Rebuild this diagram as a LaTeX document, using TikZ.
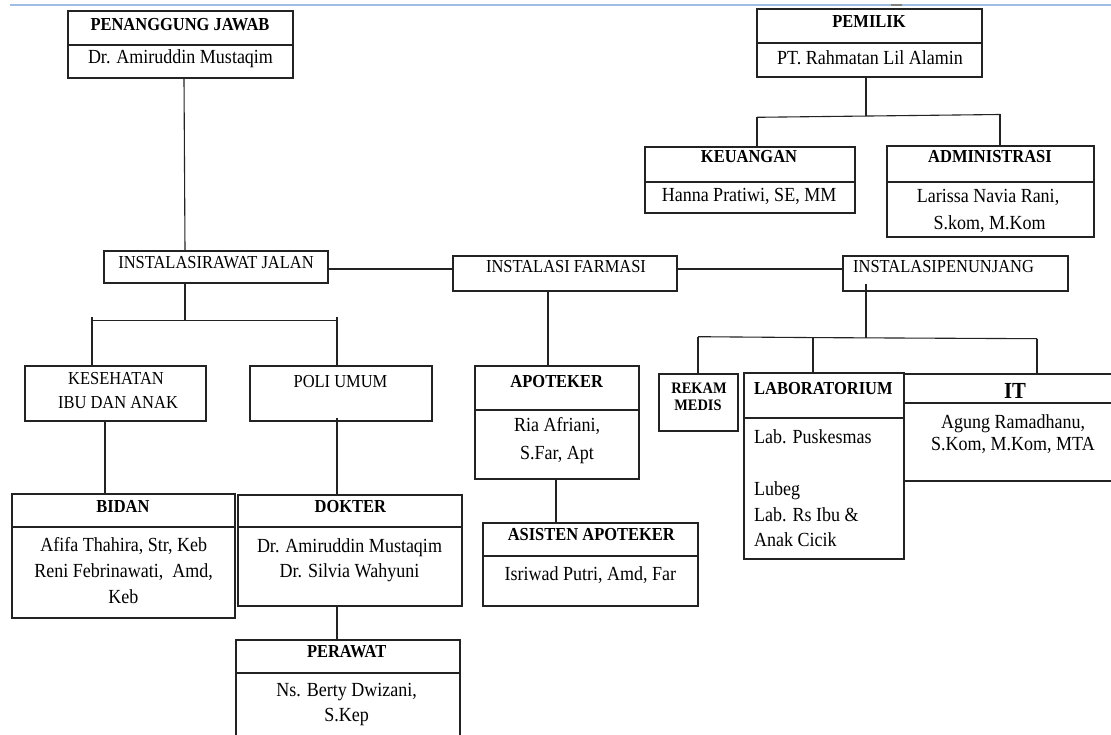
\documentclass[tikz,border=0pt]{standalone}
\usepackage{fontspec}
\setmainfont{Liberation Serif}[FakeStretch=0.9]
\usetikzlibrary{fit}
\definecolor{topblue}{RGB}{160,190,228}
\definecolor{ln}{RGB}{35,35,35}
\tikzset{
  box/.style={draw=ln, line width=1.1pt, inner sep=0pt, fill=white},
  con/.style={draw=ln, line width=1.1pt},
  hd/.style={inner sep=0pt, anchor=base, font=\fontsize{18.3}{21}\selectfont\bfseries},
  bd/.style={inner sep=0pt, anchor=base, font=\fontsize{20}{24}\selectfont},
  cp/.style={inner sep=0pt, anchor=base, font=\fontsize{18.3}{21}\selectfont},
  sm/.style={inner sep=0pt, anchor=base, font=\fontsize{16}{19}\selectfont\bfseries},
  big/.style={inner sep=0pt, anchor=base, font=\fontsize{23}{26}\selectfont\bfseries},
}
\newcommand\bx[5]{\node[box, fit={(#2,#3) (#4,#5)}] (#1) {};}
\newcommand\tx[5]{\node[#4] (#1) at (#2,#3) {#5};}
\begin{document}
\begin{tikzpicture}[x=1pt,y=-1pt]
\clip (0,0) rectangle (1111,735);
\fill[white] (0,0) rectangle (1111,735);
% top page line
\coordinate (tl0) at (10,5);
\coordinate (tl1) at (1111,5);
\draw[topblue, line width=1.6pt] (tl0) -- (tl1);
\coordinate (td0) at (891,5);
\coordinate (td1) at (902,5);
\draw[gray, line width=1.6pt] (td0) -- (td1);

% ---------- connectors (coordinates) ----------
\coordinate (xpj) at (184,0);
\coordinate (xrj) at (185,0);
\coordinate (xke) at (92,0);
\coordinate (xpu) at (337,0);
\coordinate (xkb) at (105,0);
\coordinate (xfa) at (548,0);
\coordinate (xap) at (556,0);
\coordinate (xpn) at (866,0);
\coordinate (xrm) at (698,0);
\coordinate (xla) at (813,0);
\coordinate (xit) at (1037,0);
\coordinate (xku) at (757,0);
\coordinate (xad) at (1000,0);
\coordinate (yh) at (0,269);

% ---------- boxes ----------
\bx{pjh}{68}{11}{293}{45}
\bx{pjb}{68}{45}{293}{78}
\bx{pmh}{757}{9}{982}{43}
\bx{pmb}{757}{43}{982}{77}
\bx{kuh}{645}{147}{855}{182}
\bx{kub}{645}{182}{855}{213}
\bx{adh}{887}{146}{1094}{182}
\bx{adb}{887}{182}{1094}{237}
\bx{rj}{104}{251}{328}{283}
\bx{fa}{453}{256}{677}{291}
\bx{pn}{843}{256}{1068}{291}
\bx{ke}{25}{366}{206}{421}
\bx{pu}{250}{366}{432}{421}
\bx{bih}{12}{494}{235}{527}
\bx{bib}{12}{527}{235}{618}
\bx{doh}{238}{495}{462}{527}
\bx{dob}{238}{527}{462}{606}
\bx{peh}{236}{640}{460}{673}
\bx{peb}{236}{673}{460}{760}
\bx{aph}{475}{366}{639}{410}
\bx{apb}{475}{410}{639}{479}
\bx{ash}{483}{523}{698}{556}
\bx{asb}{483}{556}{698}{606}
\bx{rm}{659}{374}{738}{431}
\bx{lah}{744}{373}{904}{418}
\bx{lab}{744}{418}{904}{559}
\bx{ith}{904}{374}{1130}{403}
\bx{itb}{904}{403}{1130}{481}

% junction coordinates
\coordinate (jrj) at (185,320.7);
\coordinate (bl) at (92,317);
\coordinate (br) at (337,317);
\coordinate (bl2) at (92,320.7);
\coordinate (br2) at (337,320.7);
\coordinate (jpn) at (866,337.5);
\coordinate (pnin) at (866,284);
\coordinate (pbl) at (698,336.7);
\coordinate (pbm) at (813,337.6);
\coordinate (pbr) at (1037,338.7);
\coordinate (jpm) at (866,116);
\coordinate (mbl) at (757,117.3);
\coordinate (mbr) at (1000,114.5);
\coordinate (puin) at (337,418);

% ---------- connectors ----------
\draw[con] (pjb.south -| xpj) -- (rj.north -| xrj);
\draw[con] (rj.south -| xrj) -- (jrj);
\draw[con] (bl2) -- (br2);
\draw[con] (bl) -- (ke.north -| xke);
\draw[con] (br) -- (pu.north -| xpu);
\draw[con] (ke.south -| xkb) -- (bih.north -| xkb);
\draw[con] (puin) -- (doh.north -| xpu);
\draw[con] (dob.south -| xpu) -- (peh.north -| xpu);
\draw[con] (rj.east |- yh) -- (fa.west |- yh);
\draw[con] (fa.east |- yh) -- (pn.west |- yh);
\draw[con] (fa.south -| xfa) -- (aph.north -| xfa);
\draw[con] (apb.south -| xap) -- (ash.north -| xap);
\draw[con] (pnin) -- (jpn);
\draw[con] (pbl) -- (pbm) -- (pbr);
\draw[con] (pbl) -- (rm.north -| xrm);
\draw[con] (pbm) -- (lah.north -| xla);
\draw[con] (pbr) -- (ith.north -| xit);
\draw[con] (pmb.south -| xpn) -- (jpm);
\draw[con] (mbl) -- (mbr);
\draw[con] (mbl) -- (kuh.north -| xku);
\draw[con] (mbr) -- (adh.north -| xad);

% ---------- texts ----------
\tx{tpjh}{180}{30.7}{hd}{PENANGGUNG JAWAB}
\tx{tpjb}{180.5}{63.3}{bd}{Dr. Amiruddin Mustaqim}
\tx{tpmh}{869}{27.3}{hd}{PEMILIK}
\tx{tpmb}{870}{65}{bd}{PT. Rahmatan Lil Alamin}
\tx{tkuh}{749}{163}{hd}{KEUANGAN}
\tx{tkub}{749}{202}{bd}{Hanna Pratiwi, SE, MM}
\tx{tadh}{990}{163}{hd}{ADMINISTRASI}
\tx{tadb1}{988}{202.7}{bd}{Larissa Navia Rani,}
\tx{tadb2}{989.5}{230}{bd}{S.kom, M.Kom}
\tx{trj}{216}{268.3}{cp}{INSTALASIRAWAT JALAN}
\tx{tfa}{566}{273}{cp}{INSTALASI FARMASI}
\node[cp, anchor=base west] (tpn) at (853,273) {INSTALASIPENUNJANG};
\tx{tke1}{116}{384}{cp}{KESEHATAN}
\tx{tke2}{118}{408.3}{cp}{IBU DAN ANAK}
\tx{tpu}{340.5}{387.3}{cp}{POLI UMUM}
\tx{tbih}{123}{512.3}{hd}{BIDAN}
\tx{tbib1}{123.7}{551.7}{bd}{Afifa Thahira, Str, Keb}
\tx{tbib2}{123.7}{577.7}{bd}{Reni Febrinawati,\ \ Amd,}
\tx{tbib3}{123.3}{603.3}{bd}{Keb}
\tx{tdoh}{350.3}{512.3}{hd}{DOKTER}
\tx{tdob1}{349.5}{552.3}{bd}{Dr. Amiruddin Mustaqim}
\tx{tdob2}{349.5}{577.3}{bd}{Dr. Silvia Wahyuni}
\tx{tpeh}{346.7}{657.3}{hd}{PERAWAT}
\tx{tpeb1}{346.7}{696.7}{bd}{Ns. Berty Dwizani,}
\tx{tpeb2}{346.7}{721.5}{bd}{S.Kep}
\tx{taph}{556.7}{387.3}{hd}{APOTEKER}
\tx{tapb1}{557}{431.7}{bd}{Ria Afriani,}
\tx{tapb2}{557}{459.3}{bd}{S.Far, Apt}
\tx{tash}{591.3}{540.7}{hd}{ASISTEN APOTEKER}
\tx{tasb}{590.3}{580}{bd}{Isriwad Putri, Amd, Far}
\tx{trm1}{699}{393}{sm}{REKAM}
\tx{trm2}{698}{410.7}{sm}{MEDIS}
\node[hd, anchor=base west] (tlah) at (754,394) {LABORATORIUM};
\node[bd, anchor=base west] (tlab1) at (754,443.3) {Lab. Puskesmas};
\node[bd, anchor=base west] (tlab2) at (754,495) {Lubeg};
\node[bd, anchor=base west] (tlab3) at (754,521) {Lab. Rs Ibu \&};
\node[bd, anchor=base west] (tlab4) at (754,546.7) {Anak Cicik};
\tx{tith}{1015}{398.3}{big}{IT}
\tx{titb1}{1013}{428}{bd}{Agung Ramadhanu,}
\tx{titb2}{1013}{450}{bd}{S.Kom, M.Kom, MTA}
\end{tikzpicture}
\end{document}
